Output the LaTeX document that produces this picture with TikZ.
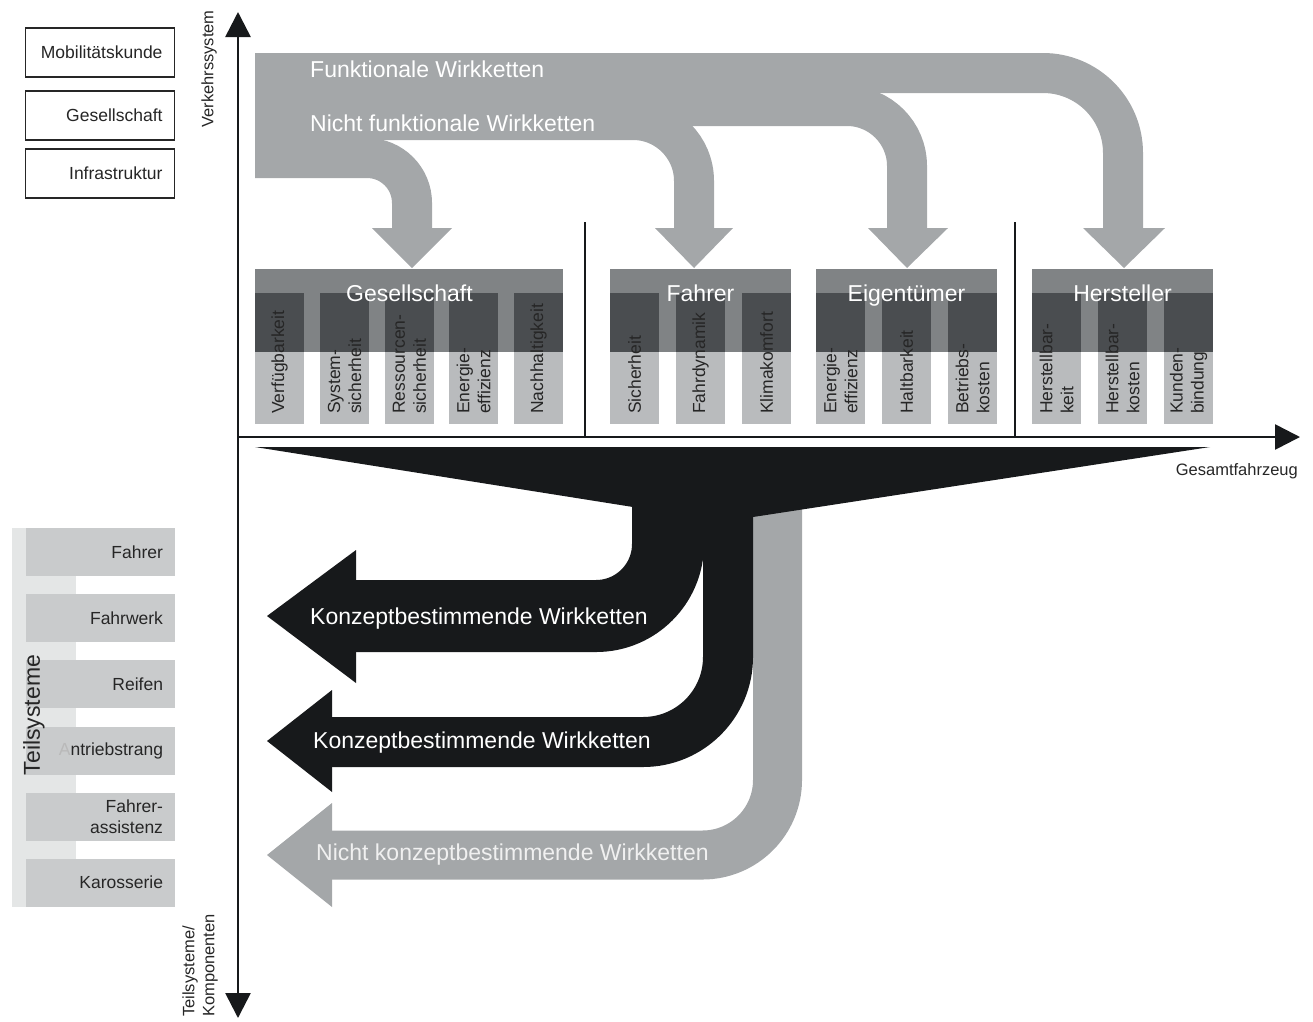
\documentclass[tikz,border=0pt]{standalone}
\usepackage{fontspec}
\setmainfont{Liberation Sans}
\usetikzlibrary{arrows.meta}
\definecolor{arrgray}{HTML}{A4A7A9}
\definecolor{hdrgray}{HTML}{808385}
\definecolor{darkcol}{HTML}{4A4D50}
\definecolor{lightcol}{HTML}{B9BBBD}
\definecolor{blk}{HTML}{17191B}
\definecolor{boxgray}{HTML}{C9CBCC}
\definecolor{stripgray}{HTML}{E4E6E6}
\definecolor{txt}{HTML}{262626}
\begin{document}
\begin{tikzpicture}[x=1pt,y=-1pt,
  >={Triangle[width=25pt,length=25pt]},
  fs/.style={font=\fontsize{17.5}{21}\selectfont},
  topbox/.style={draw=txt, line width=1.3pt, fill=white, text width=125pt, align=right,
    inner xsep=12pt, inner ysep=0pt, minimum height=49pt, fs, text=txt},
  subbox/.style={fill=boxgray, text width=125pt, align=right,
    inner xsep=12pt, inner ysep=0pt, minimum height=48pt, fs, text=txt},
  collabel/.style={rotate=90, anchor=west, align=left, inner sep=0pt, fs, text=txt},
  hdr/.style={anchor=base, inner sep=0pt, text=white, font=\fontsize{23}{27}\selectfont},
  biglabel/.style={anchor=base west, inner sep=0pt, text=white, font=\fontsize{23}{27}\selectfont},
  axislabel/.style={font=\fontsize{16.5}{20}\selectfont, text=txt, inner sep=0pt},
  gband/.style={draw=arrgray, line width=40pt},
  axisline/.style={line width=2.6pt, draw=blk}
]
\useasboundingbox (0,0) rectangle (1313,1021);

% ---------- top-left boxes ----------
\node[topbox] (mk) at (100,52.5) {Mobilitätskunde};
\node[topbox] (gs) at (100,115.5) {Gesellschaft};
\node[topbox] (inf) at (100,173.5) {Infrastruktur};

% ---------- top gray arrows ----------
\draw[gband, rounded corners=80pt] (255,73) -- (1123,73) -- (1123,229);
\draw[gband, rounded corners=60pt] (255,106) -- (907,106) -- (907,229);
\draw[gband, rounded corners=61pt] (255,120) -- (694,120) -- (694,229);
\draw[gband, rounded corners=45pt] (255,158) -- (412,158) -- (412,229);
\fill[arrgray] (372,228) -- (452,228) -- (412,268) -- cycle;
\fill[arrgray] (655,228) -- (733,228) -- (694,268) -- cycle;
\fill[arrgray] (868,228) -- (948,228) -- (907,268) -- cycle;
\fill[arrgray] (1083,228) -- (1165,228) -- (1124,268) -- cycle;
\node[biglabel] (fw) at (310,77) {Funktionale Wirkketten};
\node[biglabel] (nfw) at (310,131) {Nicht funktionale Wirkketten};

% ---------- separators ----------
\draw[line width=1.3pt, blk] (585,222) -- (585,437);
\draw[line width=1.3pt, blk] (1015,222) -- (1015,437);

% ---------- category groups ----------
\fill[hdrgray] (255,269) rectangle (563,352);
\foreach \x in {255,320,385,449,514}{
  \fill[darkcol] (\x,293) rectangle ++(49,59);
  \fill[lightcol] (\x,352) rectangle ++(49,72);
}
\fill[hdrgray] (610,269) rectangle (791,352);
\foreach \x in {610,676,742}{
  \fill[darkcol] (\x,293) rectangle ++(49,59);
  \fill[lightcol] (\x,352) rectangle ++(49,72);
}
\fill[hdrgray] (816,269) rectangle (997,352);
\foreach \x in {816,882,948}{
  \fill[darkcol] (\x,293) rectangle ++(49,59);
  \fill[lightcol] (\x,352) rectangle ++(49,72);
}
\fill[hdrgray] (1032,269) rectangle (1213,352);
\foreach \x in {1032,1098,1164}{
  \fill[darkcol] (\x,293) rectangle ++(49,59);
  \fill[lightcol] (\x,352) rectangle ++(49,72);
}
\node[hdr] (hg) at (409.5,301.5) {Gesellschaft};
\node[hdr] (hf) at (700.5,301.5) {Fahrer};
\node[hdr] (he) at (906.5,301.5) {Eigentümer};
\node[hdr] (hh) at (1122.5,301.5) {Hersteller};

\node[collabel] (c1) at (279.5,414) {Verfügbarkeit};
\node[collabel] (c2) at (344.5,414) {System-\\sicherheit};
\node[collabel] (c3) at (409.5,414) {Ressourcen-\\sicherheit};
\node[collabel] (c4) at (473.5,414) {Energie-\\effizienz};
\node[collabel] (c5) at (538.5,414) {Nachhaltigkeit};
\node[collabel] (c6) at (634.5,414) {Sicherheit};
\node[collabel] (c7) at (700.5,414) {Fahrdynamik};
\node[collabel] (c8) at (766.5,414) {Klimakomfort};
\node[collabel] (c9) at (840.5,414) {Energie-\\effizienz};
\node[collabel] (c10) at (906.5,414) {Haltbarkeit};
\node[collabel] (c11) at (972.5,414) {Betriebs-\\kosten};
\node[collabel] (c12) at (1056.5,414) {Herstellbar-\\keit};
\node[collabel] (c13) at (1122.5,414) {Herstellbar-\\kosten};
\node[collabel] (c14) at (1188.5,414) {Kunden-\\bindung};

% ---------- bottom arrows ----------
\draw[arrgray, line width=49pt, rounded corners=75pt] (777.5,500) -- (777.5,855) -- (330,855);
\fill[arrgray] (332,803) -- (267,855) -- (332,907) -- cycle;
\fill[blk] (255,447) -- (1210,447) -- (753,517) -- (633,507) -- cycle;
\draw[blk, line width=72pt, rounded corners=72pt] (668,480) -- (668,616) -- (354,616);
\fill[blk] (356,550) -- (267,616) -- (356,683) -- cycle;
\draw[blk, line width=50pt, rounded corners=85pt] (728,480) -- (728,742) -- (330,742);
\fill[blk] (332,690) -- (267,741) -- (332,792) -- cycle;
\node[biglabel] (k1) at (310,624) {Konzeptbestimmende Wirkketten};
\node[biglabel] (k2) at (313,748) {Konzeptbestimmende Wirkketten};
\node[biglabel, text=white!94!black] (k3) at (316,860) {Nicht konzeptbestimmende Wirkketten};

% ---------- Teilsysteme ----------
\fill[stripgray] (12,528) rectangle (76,907);
\node[subbox] (s1) at (100.5,552) {Fahrer};
\node[subbox] (s2) at (100.5,618) {Fahrwerk};
\node[subbox] (s3) at (100.5,684) {Reifen};
\node[subbox] (s4) at (100.5,751) {{\color{gray!55}A}ntriebstrang};
\node[subbox] (s5) at (100.5,817) {Fahrer-\\assistenz};
\node[subbox] (s6) at (100.5,882.5) {Karosserie};
\node[rotate=90, inner sep=0pt, text=txt, font=\fontsize{23}{27}\selectfont] (ts) at (34,715) {Teilsysteme};

% ---------- axes ----------
\coordinate (ybot) at (238,1018);
\coordinate (ytop) at (238,12);
\coordinate (x0) at (237,437);
\coordinate (xend) at (1300,437);
\draw[axisline, <->] (ybot) -- (ytop);
\draw[axisline, ->] (x0) -- (xend);
\node[axislabel, rotate=90] (vs) at (209,69) {Verkehrssystem};
\node[axislabel, rotate=90, anchor=west, align=left] (tk) at (200,1017) {Teilsysteme/\\Komponenten};
\node[axislabel, anchor=base east] (gf) at (1298,475) {Gesamtfahrzeug};
\end{tikzpicture}
\end{document}
